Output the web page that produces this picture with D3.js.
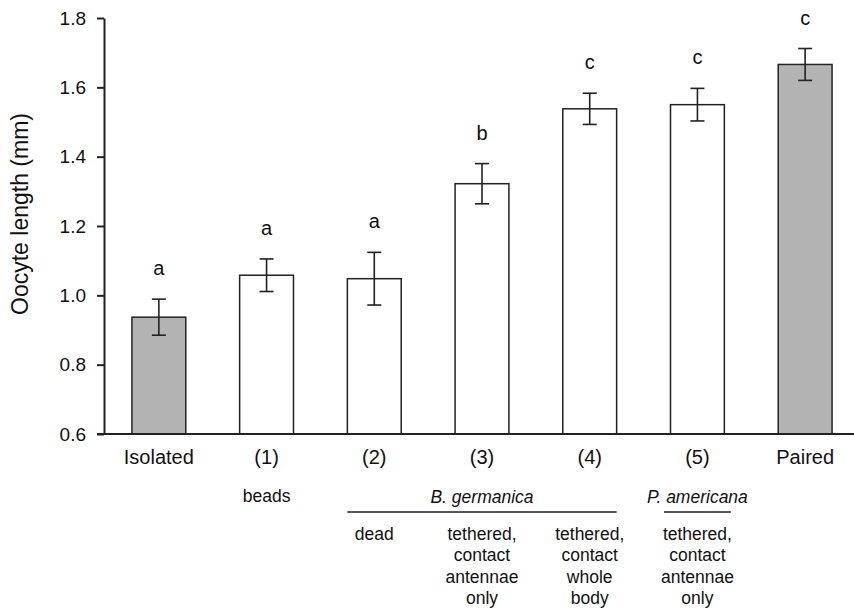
<!DOCTYPE html>
<html>
<head>
<meta charset="utf-8">
<script src="https://cdn.jsdelivr.net/npm/d3@7"></script>
<style>
  body { margin: 0; background: #fff; }
  text { font-family: "Liberation Sans", Arial, sans-serif; fill: #111; }
</style>
</head>
<body>
<script>
// data
const categories = ['Isolated', '(1)', '(2)', '(3)', '(4)', '(5)', 'Paired'];
const means = [0.937, 1.058, 1.048, 1.322, 1.538, 1.550, 1.666];
const errors = [0.052, 0.047, 0.076, 0.058, 0.045, 0.047, 0.046];
const letters = ['a', 'a', 'a', 'b', 'c', 'c', 'c'];
const controls = ['Isolated', 'Paired'];
const yTicks = [0.6, 0.8, 1.0, 1.2, 1.4, 1.6, 1.8];

// second row under the axis
const stimulus = ['', 'beads', '', '', '', '', ''];
const species = [
  { name: 'B. germanica', from: '(2)', to: '(4)' },
  { name: 'P. americana', from: '(5)', to: '(5)' }
];
const treatment = [
  [], [],
  ['dead'],
  ['tethered,', 'contact', 'antennae', 'only'],
  ['tethered,', 'contact', 'whole', 'body'],
  ['tethered,', 'contact', 'antennae', 'only'],
  []
];

const width = 854;
const height = 609;

const svg = d3.select('body').append('svg')
  .attr('width', width)
  .attr('height', height);

const x = d3.scaleBand()
  .domain(categories)
  .range([105, 859])
  .paddingInner(0.5)
  .paddingOuter(0.25);

const y = d3.scaleLinear()
  .domain([0.6, 1.8])
  .range([434, 18]);

const ink = '#222';

// y axis
const yAxis = svg.append('g')
  .attr('transform', 'translate(104,0)')
  .call(d3.axisLeft(y).tickValues(yTicks).tickFormat(d3.format('.1f')).tickSize(7).tickPadding(11).tickSizeOuter(0));
yAxis.select('.domain').attr('stroke', ink).attr('stroke-width', 2);
yAxis.selectAll('.tick line').attr('stroke', ink).attr('stroke-width', 2);
yAxis.selectAll('.tick text')
  .style('font-size', '19px')
  .style('font-family', '"Liberation Sans", Arial, sans-serif')
  .attr('fill', '#111');

svg.append('text')
  .attr('transform', 'translate(28,' + 214 + ') rotate(-90)')
  .attr('text-anchor', 'middle')
  .style('font-size', '23px')
  .text('Oocyte length (mm)');

// bars
const bw = x.bandwidth();
const rows = categories.map((c, i) => ({ cat: c, mean: means[i], err: errors[i], letter: letters[i] }));

svg.selectAll('.bar')
  .data(rows)
  .enter().append('rect')
  .attr('class', 'bar')
  .attr('x', d => x(d.cat))
  .attr('y', d => y(d.mean))
  .attr('width', bw)
  .attr('height', d => y(0.6) - y(d.mean))
  .attr('fill', d => controls.includes(d.cat) ? '#b3b3b3' : '#fff')
  .attr('stroke', ink)
  .attr('stroke-width', 1.5);

// error bars
const cap = 7;
const eb = svg.selectAll('.err')
  .data(rows)
  .enter().append('g')
  .attr('class', 'err')
  .attr('stroke', ink)
  .attr('stroke-width', 1.6);
eb.append('line')
  .attr('x1', d => x(d.cat) + bw / 2).attr('x2', d => x(d.cat) + bw / 2)
  .attr('y1', d => y(d.mean + d.err)).attr('y2', d => y(d.mean - d.err));
eb.append('line')
  .attr('x1', d => x(d.cat) + bw / 2 - cap).attr('x2', d => x(d.cat) + bw / 2 + cap)
  .attr('y1', d => y(d.mean + d.err)).attr('y2', d => y(d.mean + d.err));
eb.append('line')
  .attr('x1', d => x(d.cat) + bw / 2 - cap).attr('x2', d => x(d.cat) + bw / 2 + cap)
  .attr('y1', d => y(d.mean - d.err)).attr('y2', d => y(d.mean - d.err));

// significance letters
svg.selectAll('.letter')
  .data(rows)
  .enter().append('text')
  .attr('class', 'letter')
  .attr('x', d => x(d.cat) + bw / 2)
  .attr('y', d => y(d.mean + d.err) - 24)
  .attr('text-anchor', 'middle')
  .style('font-size', '20px')
  .text(d => d.letter);

// x axis baseline (no ticks)
svg.append('line')
  .attr('x1', 97).attr('x2', width)
  .attr('y1', y(0.6)).attr('y2', y(0.6))
  .attr('stroke', ink)
  .attr('stroke-width', 2);

// category labels
svg.selectAll('.cat')
  .data(categories)
  .enter().append('text')
  .attr('class', 'cat')
  .attr('x', d => x(d) + bw / 2)
  .attr('y', 464)
  .attr('text-anchor', 'middle')
  .style('font-size', '20px')
  .text(d => d);

// stimulus row
svg.selectAll('.stim')
  .data(categories.filter((c, i) => stimulus[i]))
  .enter().append('text')
  .attr('x', d => x(d) + bw / 2)
  .attr('y', 502)
  .attr('text-anchor', 'middle')
  .style('font-size', '17.5px')
  .text(d => stimulus[categories.indexOf(d)]);

// species groups with underline
species.forEach(s => {
  const single = s.from === s.to;
  const ext = single ? 6.5 : 0;
  const x1 = x(s.from) - ext;
  const x2 = x(s.to) + bw + ext;
  svg.append('text')
    .attr('x', (x1 + x2) / 2)
    .attr('y', 503)
    .attr('text-anchor', 'middle')
    .style('font-size', '17.5px')
    .style('font-style', 'italic')
    .text(s.name);
  svg.append('line')
    .attr('x1', x1).attr('x2', x2)
    .attr('y1', 512).attr('y2', 512)
    .attr('stroke', ink)
    .attr('stroke-width', 1.5);
});

// treatment descriptions
categories.forEach((c, i) => {
  const t = svg.append('text')
    .attr('text-anchor', 'middle')
    .style('font-size', '17.5px');
  treatment[i].forEach((line, j) => {
    t.append('tspan')
      .attr('x', x(c) + bw / 2)
      .attr('y', 539.5 + j * 21.5)
      .text(line);
  });
});
</script>
</body>
</html>
